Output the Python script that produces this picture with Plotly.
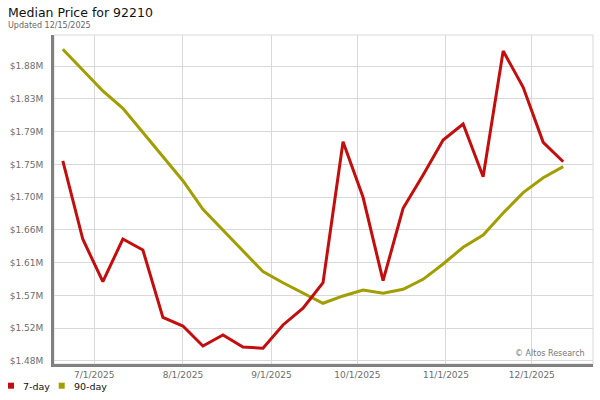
import plotly.graph_objects as go

# weekly sample dates
dates = ["2025-06-20", "2025-06-27", "2025-07-04", "2025-07-11", "2025-07-18",
         "2025-07-25", "2025-08-01", "2025-08-08", "2025-08-15", "2025-08-22",
         "2025-08-29", "2025-09-05", "2025-09-12", "2025-09-19", "2025-09-26",
         "2025-10-03", "2025-10-10", "2025-10-17", "2025-10-24", "2025-10-31",
         "2025-11-07", "2025-11-14", "2025-11-21", "2025-11-28", "2025-12-05",
         "2025-12-12"]

# median price, $M
price_7day = [1.7496, 1.6433, 1.5857, 1.6436, 1.6287, 1.5373, 1.5255, 1.4984,
              1.5133, 1.4970, 1.4952, 1.5269, 1.5496, 1.5843, 1.7758, 1.7003,
              1.5870, 1.6854, 1.7306, 1.7781, 1.7998, 1.7283, 1.8990, 1.8497,
              1.7750, 1.7486]
price_90day = [1.9013, 1.8729, 1.8447, 1.8212, 1.7886, 1.7554, 1.7228, 1.6840,
               1.6559, 1.6278, 1.5993, 1.5843, 1.5699, 1.5564, 1.5663, 1.5744,
               1.5699, 1.5754, 1.5889, 1.6097, 1.6324, 1.6491, 1.6790, 1.7066,
               1.7269, 1.7419]

y_tickvals = [1.478, 1.5225, 1.567, 1.6115, 1.656, 1.7005, 1.745, 1.7895, 1.834, 1.8785]
y_ticktext = ["$1.48M", "$1.52M", "$1.57M", "$1.61M", "$1.66M",
              "$1.70M", "$1.75M", "$1.79M", "$1.83M", "$1.88M"]
x_tickvals = ["2025-07-01", "2025-08-01", "2025-09-01", "2025-10-01", "2025-11-01", "2025-12-01"]
x_ticktext = ["7/1/2025", "8/1/2025", "9/1/2025", "10/1/2025", "11/1/2025", "12/1/2025"]

RED = "#c40d0d"
OLIVE = "#a09e00"
GREY_TXT = "#6e6e6e"
FONT = "DejaVu Sans"

# plot area in pixels
L, R, T, B = 54, 593, 35, 364
W, H = 600, 400


def px(x):
    return (x - L) / (R - L)


def py(y):
    return (B - y) / (B - T)


fig = go.Figure()
fig.add_trace(go.Scatter(x=dates, y=price_90day, mode="lines", name="90-day",
                         line=dict(color=OLIVE, width=3), showlegend=False))
fig.add_trace(go.Scatter(x=dates, y=price_7day, mode="lines", name="7-day",
                         line=dict(color=RED, width=3), showlegend=False))

fig.update_layout(
    width=W, height=H,
    margin=dict(l=L, r=W - R, t=T, b=H - B, pad=0),
    paper_bgcolor="white", plot_bgcolor="white",
    font=dict(family=FONT, size=9, color=GREY_TXT),
    xaxis=dict(range=["2025-06-16 22:00", "2025-12-22 10:00"],
               tickvals=x_tickvals, ticktext=x_ticktext,
               showgrid=True, gridcolor="#d9d9d9", gridwidth=1,
               showline=True, linecolor="#808080", linewidth=3,
               ticks="", zeroline=False, tickfont=dict(size=9, color=GREY_TXT)),
    yaxis=dict(range=[1.4739, 1.9207],
               tickvals=y_tickvals, ticktext=y_ticktext,
               showgrid=True, gridcolor="#d9d9d9", gridwidth=1,
               showline=True, linecolor="#808080", linewidth=3,
               ticks="outside", ticklen=6, tickcolor="rgba(0,0,0,0)",
               zeroline=False, tickfont=dict(size=9, color=GREY_TXT)),
    showlegend=False,
)

# light frame on top and right
fig.add_shape(type="rect", xref="paper", yref="paper", x0=0, x1=1, y0=0, y1=1,
              line=dict(color="#d9d9d9", width=1), layer="below")

# title texts
fig.add_annotation(text="Median Price for 92210", xref="paper", yref="paper",
                   x=px(6), y=py(13), xanchor="left", yanchor="middle",
                   showarrow=False, font=dict(family=FONT, size=12.5, color="#111"))
fig.add_annotation(text="Updated 12/15/2025", xref="paper", yref="paper",
                   x=px(6), y=py(25), xanchor="left", yanchor="middle",
                   showarrow=False, font=dict(family=FONT, size=8, color="#666"))
fig.add_annotation(text="\u00a9 Altos Research", xref="paper", yref="paper",
                   x=px(587), y=py(353), xanchor="right", yanchor="middle",
                   showarrow=False, font=dict(family=FONT, size=8, color="#777"))

# legend
for sx, label, color in [(8, "7-day", RED), (58.7, "90-day", OLIVE)]:
    fig.add_shape(type="rect", xref="paper", yref="paper",
                  x0=px(sx), x1=px(sx + 6), y0=py(388.7), y1=py(382.7),
                  fillcolor=color, line=dict(width=0))
    fig.add_annotation(text=label, xref="paper", yref="paper",
                       x=px(sx + 13), y=py(386.7), xanchor="left", yanchor="middle",
                       showarrow=False, font=dict(family=FONT, size=9.5, color="#111"))

# the page body has a default 8px margin; drop it so the figure sits at 0,0
fig.write_html("out.html", config={"displayModeBar": False},
               post_script="document.body.style.margin='0';")
